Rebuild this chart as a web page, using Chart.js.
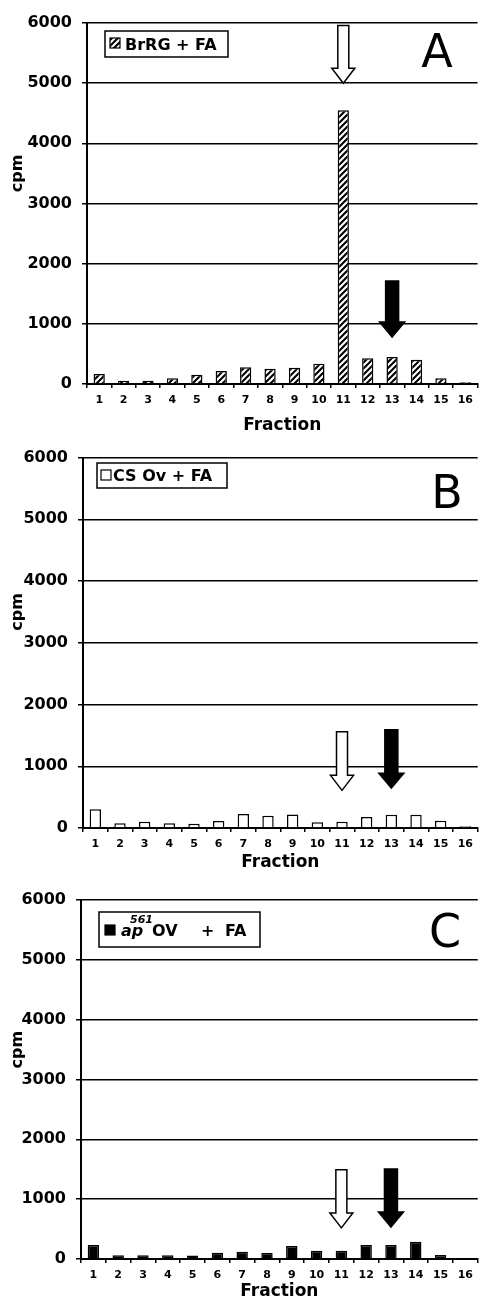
<!DOCTYPE html>
<html lang="en">
<head>
<meta charset="utf-8" />
<title>cpm per fraction</title>
<style>
  body { margin: 0; background: #fff; }
  #wrap { position: relative; width: 479px; height: 1300px; }
  canvas { position: absolute; left: 0; }
</style>
</head>
<body>
<div id="wrap">
  <canvas id="panelA" width="479" height="438" style="top:0px"></canvas>
  <canvas id="panelB" width="479" height="434" style="top:438px"></canvas>
  <canvas id="panelC" width="479" height="428" style="top:872px"></canvas>
</div>
<script src="https://cdn.jsdelivr.net/npm/chart.js@4.4.0/dist/chart.umd.min.js"></script>
<script>
  // fraction numbers along the x axis
  const fractions = ['1','2','3','4','5','6','7','8','9','10','11','12','13','14','15','16'];
  // cpm tick values on the y axis
  const cpmTicks = [0, 1000, 2000, 3000, 4000, 5000, 6000];

  // cpm per fraction, one list per sample
  const cpmBrRG  = [165, 55, 55, 95, 155, 215, 277, 255, 270, 337, 4550, 427, 448, 404, 95, 30];
  const cpmCSOv  = [305, 75, 100, 75, 70, 112, 225, 198, 220, 92, 100, 177, 214, 214, 117, 30];
  const cpmAp561 = [234, 62, 62, 62, 57, 105, 122, 100, 217, 139, 139, 234, 234, 290, 67, 10];

  // marker arrows: the open one over fraction 11, the solid one over fraction 13
  const arrowFractions = ['11', '13'];
  const arrowTopA = [5960, 1710], arrowTipA = [5000, 780];
  const arrowTopB = [1560, 1590], arrowTipB = [610, 645];
  const arrowTopC = [1490, 1505], arrowTipC = [520, 535];

  const FONT = '"DejaVu Sans", Verdana, sans-serif';

  // diagonal hatch used for the BrRG bars
  function hatchPattern() {
    const c = document.createElement('canvas');
    c.width = c.height = 6;
    const g = c.getContext('2d');
    g.fillStyle = '#fff';
    g.fillRect(0, 0, 6, 6);
    g.strokeStyle = '#000';
    g.lineWidth = 2.1;
    g.beginPath();
    g.moveTo(-1, 7); g.lineTo(7, -1);
    g.moveTo(-1, 1); g.lineTo(1, -1);
    g.moveTo(5, 7); g.lineTo(7, 5);
    g.stroke();
    return g.createPattern(c, 'repeat');
  }
  const hatch = hatchPattern();

  function drawArrow(ctx, x, yTop, yTip, solid) {
    const sw = solid ? 13 : 11, hw = solid ? 25 : 23, hl = 15;
    ctx.beginPath();
    ctx.moveTo(x - sw / 2, yTop);
    ctx.lineTo(x + sw / 2, yTop);
    ctx.lineTo(x + sw / 2, yTip - hl);
    ctx.lineTo(x + hw / 2, yTip - hl);
    ctx.lineTo(x, yTip);
    ctx.lineTo(x - hw / 2, yTip - hl);
    ctx.lineTo(x - sw / 2, yTip - hl);
    ctx.closePath();
    ctx.fillStyle = solid ? '#000' : '#fff';
    ctx.fill();
    ctx.lineWidth = 1.5;
    ctx.strokeStyle = '#000';
    ctx.stroke();
  }

  // legend box, panel letter, "cpm" label and the arrows
  function decor(cfg) {
    return {
      id: 'decor',
      afterDatasetsDraw(chart) {
        const ctx = chart.ctx, xs = chart.scales.x, ys = chart.scales.y;
        ctx.save();

        arrowFractions.forEach((f, i) => {
          drawArrow(ctx, xs.getPixelForValue(fractions.indexOf(f)),
            ys.getPixelForValue(cfg.tops[i]), ys.getPixelForValue(cfg.tips[i]), i === 1);
        });

        // cpm
        ctx.fillStyle = '#000';
        ctx.font = 'bold 16px ' + FONT;
        ctx.textAlign = 'center';
        ctx.textBaseline = 'middle';
        ctx.translate(18, ys.getPixelForValue(3500));
        ctx.rotate(-Math.PI / 2);
        ctx.fillText('cpm', 0, 0);
        ctx.setTransform(1, 0, 0, 1, 0, 0);

        // panel letter
        ctx.font = '46px ' + FONT;
        ctx.textBaseline = 'alphabetic';
        ctx.fillText(cfg.letter, cfg.letterX, cfg.letterY);

        // legend
        const b = cfg.box;
        ctx.fillStyle = '#fff';
        ctx.fillRect(b.x, b.y, b.w, b.h);
        ctx.lineWidth = 1.5;
        ctx.strokeStyle = '#000';
        ctx.strokeRect(b.x, b.y, b.w, b.h);
        const s = cfg.swatch;
        ctx.fillStyle = s.fill;
        ctx.fillRect(s.x, s.y, s.size, s.size);
        ctx.lineWidth = 1.2;
        ctx.strokeRect(s.x, s.y, s.size, s.size);
        ctx.fillStyle = '#000';
        ctx.textAlign = 'left';
        cfg.text.forEach(t => {
          ctx.font = t.font + ' ' + FONT;
          ctx.fillText(t.s, t.x, t.y);
        });
        ctx.restore();
      }
    };
  }

  function makePanel(id, values, fill, geo, cfg) {
    new Chart(document.getElementById(id), {
      type: 'bar',
      data: {
        labels: fractions,
        datasets: [{
          data: values,
          backgroundColor: fill,
          borderColor: '#000',
          borderWidth: 1.5,
          barPercentage: 0.46,
          categoryPercentage: 1
        }]
      },
      options: {
        responsive: false,
        animation: false,
        devicePixelRatio: 1,
        layout: { padding: { top: geo.top, right: 0, bottom: 0, left: 0 } },
        plugins: { legend: { display: false }, tooltip: { enabled: false } },
        scales: {
          x: {
            grid: { display: true, drawOnChartArea: false, tickLength: 4, color: '#000', lineWidth: 1.5 },
            border: { color: '#000', width: 2 },
            ticks: { color: '#000', font: { family: FONT, size: 11, weight: 'bold' }, padding: 6, maxRotation: 0, autoSkip: false },
            title: {
              display: true, text: 'Fraction', color: '#000',
              font: { family: FONT, size: 17, weight: 'bold', lineHeight: 1 },
              padding: { top: 0, bottom: geo.titlePad }
            },
            afterFit: s => { s.height = geo.xHeight; }
          },
          y: {
            min: 0, max: 6000,
            afterBuildTicks: s => { s.ticks = cpmTicks.map(v => ({ value: v })); },
            grid: { color: '#000', lineWidth: 1.5, tickLength: 5 },
            border: { color: '#000', width: 2 },
            ticks: {
              color: '#000', font: { family: FONT, size: 16, weight: 'bold' }, padding: 10,
              callback: v => String(v)
            },
            afterFit: s => { s.width = geo.yWidth; }
          }
        }
      },
      plugins: [decor(cfg)]
    });
  }

  makePanel('panelA', cpmBrRG, hatch,
    { top: 23, xHeight: 54, titlePad: 4, yWidth: 87 },
    {
      tops: arrowTopA, tips: arrowTipA,
      letter: 'A', letterX: 437, letterY: 67,
      box: { x: 105, y: 31, w: 123, h: 26 },
      swatch: { x: 110, y: 38, size: 10, fill: hatch },
      text: [{ s: 'BrRG + FA', x: 125, y: 50, font: 'bold 16px' }]
    });

  makePanel('panelB', cpmCSOv, '#fff',
    { top: 17, xHeight: 44, titlePad: 1, yWidth: 83 },
    {
      tops: arrowTopB, tips: arrowTipB,
      letter: 'B', letterX: 447, letterY: 70,
      box: { x: 97, y: 25, w: 130, h: 25 },
      swatch: { x: 101, y: 32, size: 10, fill: '#fff' },
      text: [{ s: 'CS Ov + FA', x: 113, y: 43, font: 'bold 16px' }]
    });

  makePanel('panelC', cpmAp561, '#000',
    { top: 28, xHeight: 41, titlePad: 0, yWidth: 81 },
    {
      tops: arrowTopC, tips: arrowTipC,
      letter: 'C', letterX: 445, letterY: 75,
      box: { x: 99, y: 40, w: 161, h: 35 },
      swatch: { x: 105, y: 53, size: 10, fill: '#000' },
      text: [
        { s: 'ap', x: 121, y: 64, font: 'italic bold 16px' },
        { s: '561', x: 130, y: 51, font: 'italic bold 11px' },
        { s: 'OV', x: 152, y: 64, font: 'bold 16px' },
        { s: '+', x: 201, y: 64, font: 'bold 16px' },
        { s: 'FA', x: 225, y: 64, font: 'bold 16px' }
      ]
    });
</script>
</body>
</html>
